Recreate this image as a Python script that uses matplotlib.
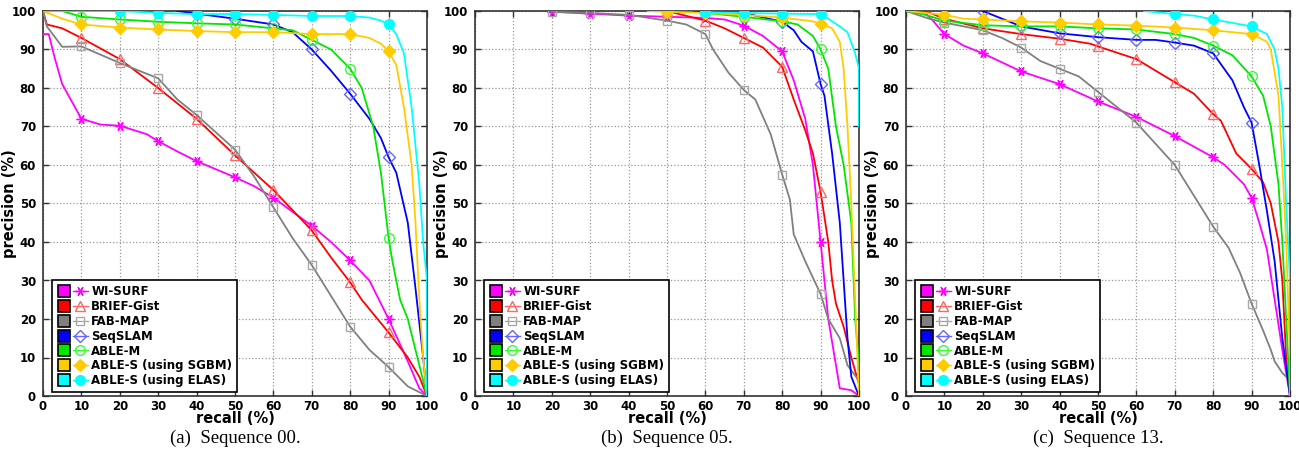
import matplotlib.pyplot as plt
from matplotlib.lines import Line2D
from matplotlib.legend_handler import HandlerTuple
import numpy as np


# ---- data (recall %, precision %) ----
names = ['WI-SURF', 'BRIEF-Gist', 'FAB-MAP', 'SeqSLAM', 'ABLE-M',
         'ABLE-S (using SGBM)', 'ABLE-S (using ELAS)']

# Sequence 00
wisurf_00_x = [0, 1.5, 3, 5, 10, 15, 20, 27, 30, 35, 40, 50, 55, 60, 70, 75, 80, 85, 90, 95, 98, 100]
wisurf_00_y = [94, 94, 88, 81, 72, 70.5, 70.2, 68, 66.2, 63.5, 61, 56.8, 54.5, 51.5, 44.2, 40, 35.2, 30, 20, 9, 2, 0]
brief_00_x = [0, 1, 5, 10, 20, 30, 40, 50, 60, 70, 75, 80, 83, 90, 95, 98, 100]
brief_00_y = [100, 96.5, 95.5, 93, 87.5, 80, 72, 62.5, 53.5, 43, 36, 29.5, 25, 16.5, 10, 5, 0]
fab_00_x = [0, 1, 5, 10, 20, 30, 35, 40, 45, 50, 55, 60, 65, 70, 75, 80, 85, 90, 95, 100]
fab_00_y = [100, 96, 90.7, 90.8, 86.5, 82.5, 77, 73, 68.5, 64, 57, 49, 41, 34, 26, 18, 12, 7.5, 2.5, 0]
seq_00_x = [35, 40, 50, 60, 65, 70, 75, 80, 85, 88, 90, 92, 95, 97, 99, 100]
seq_00_y = [100, 99.3, 98, 96.5, 94.5, 90, 84.5, 78.5, 72, 67, 62, 58, 45, 28, 10, 0]
ablem_00_x = [0, 5, 10, 20, 30, 40, 50, 60, 65, 70, 75, 80, 83, 86, 88, 90, 91, 93, 95, 100]
ablem_00_y = [100, 100, 98.5, 97.8, 97.2, 96.8, 96.5, 95.5, 95, 92.5, 90, 85, 80, 70, 58, 41, 35, 25, 20, 0]
sgbm_00_x = [0, 5, 10, 20, 30, 40, 50, 60, 70, 80, 85, 88, 90, 92, 94, 96, 97, 98, 99, 100]
sgbm_00_y = [100, 98, 96.5, 95.7, 95.2, 94.8, 94.5, 94.5, 94, 94, 93, 91.5, 89.5, 86, 75, 60, 45, 25, 10, 0]
elas_00_x = [0, 20, 30, 40, 50, 60, 70, 80, 85, 88, 90, 92, 94, 96, 98, 99, 100, 100]
elas_00_y = [100, 100, 99.5, 99.2, 99.2, 99, 98.7, 98.7, 98.3, 97.5, 96.5, 94, 89, 75, 55, 40, 30, 0]

# Sequence 05
wisurf_05_x = [20, 30, 40, 50, 60, 65, 70, 75, 80, 83, 86, 88, 90, 91, 92, 95, 98, 100]
wisurf_05_y = [99.8, 99.3, 98.8, 98.5, 98.2, 97.8, 96.2, 93.5, 89.5, 82, 72, 60, 40, 30, 20, 2, 1.5, 0]
brief_05_x = [50, 60, 65, 70, 75, 80, 83, 86, 88, 90, 92, 93, 94, 96, 98, 100]
brief_05_y = [100, 97.5, 95.5, 93, 90.5, 85.5, 77, 69, 63, 53, 40, 30, 24, 18, 10, 3]
fab_05_x = [20, 30, 40, 50, 55, 60, 62, 66, 70, 73, 77, 80, 82, 83, 86, 90, 92, 95, 97, 100]
fab_05_y = [99.8, 99.5, 99, 97.5, 96.5, 94, 90, 84, 79.5, 77, 68, 57.5, 51, 42, 35, 26.5, 20, 15, 8, 4]
seq_05_x = [57, 70, 80, 83, 85, 88, 90, 91, 93, 95, 97, 98, 100]
seq_05_y = [100, 99.5, 97.2, 95, 92, 89.5, 81, 78, 63, 45, 15, 5, 0]
ablem_05_x = [60, 70, 80, 84, 88, 90, 92, 94, 96, 98, 99, 100]
ablem_05_y = [99.5, 98.5, 97.3, 96.5, 93.5, 90, 85, 70, 60, 45, 20, 8]
sgbm_05_x = [45, 50, 60, 70, 80, 88, 90, 93, 95, 96, 97, 98, 99, 100]
sgbm_05_y = [100, 99.8, 99.5, 99, 98.3, 97.3, 96.7, 95.5, 92, 85, 70, 50, 25, 0]
elas_05_x = [60, 70, 80, 90, 92, 95, 97, 99, 100, 100]
elas_05_y = [99.7, 99.5, 99.3, 99.2, 98, 96, 94.5, 89, 85, 70]

# Sequence 13
wisurf_13_x = [0, 5, 7, 10, 15, 20, 30, 40, 50, 60, 70, 80, 83, 88, 90, 92, 94, 96, 98, 100]
wisurf_13_y = [100, 99.5, 97.5, 94, 91, 89, 84.3, 81, 76.5, 72.5, 67.5, 62, 60, 55, 51.5, 45, 38, 25, 12, 0]
brief_13_x = [0, 5, 10, 20, 30, 40, 48, 50, 60, 70, 75, 80, 82, 86, 90, 93, 95, 97, 98, 99, 100]
brief_13_y = [100, 100, 98, 95.5, 94, 92.8, 91.5, 90.8, 87.5, 81.5, 78.5, 73.2, 71.5, 63, 59, 55.5, 50, 40, 30, 10, 0]
fab_13_x = [0, 6, 10, 20, 25, 30, 35, 40, 45, 50, 55, 60, 65, 70, 75, 80, 84, 87, 90, 93, 95, 96, 98, 100]
fab_13_y = [100, 98, 97, 95, 93, 90.5, 87, 85, 83, 79, 75, 71, 65.5, 60, 52, 44, 38.5, 32, 24, 17, 12, 9, 6, 4]
seq_13_x = [20, 30, 40, 50, 60, 65, 70, 75, 80, 85, 88, 90, 92, 94, 96, 98, 100]
seq_13_y = [100, 96, 94.2, 93.2, 92.5, 92.5, 91.8, 91, 89, 82, 75, 71, 60, 48, 35, 15, 0]
ablem_13_x = [0, 5, 10, 20, 30, 40, 50, 60, 70, 75, 80, 85, 90, 93, 95, 97, 98, 99, 100]
ablem_13_y = [100, 99, 97.5, 96.3, 96, 96, 95.5, 95.2, 94, 93, 91, 88.5, 83, 78, 70, 55, 40, 20, 0]
sgbm_13_x = [0, 10, 15, 20, 30, 40, 50, 60, 70, 80, 90, 94, 95, 97, 98, 99, 100]
sgbm_13_y = [100, 99, 98, 97.8, 97.3, 97, 96.5, 96.2, 95.7, 95, 94, 92, 90, 78, 60, 40, 10]
elas_13_x = [62, 70, 75, 80, 90, 94, 96, 97, 98, 99, 100, 100]
elas_13_y = [100, 99.2, 98.8, 97.8, 96, 94, 90, 85, 75, 50, 30, 0]

captions = ['(a)  Sequence 00.', '(b)  Sequence 05.', '(c)  Sequence 13.']
panels = [
    [(wisurf_00_x, wisurf_00_y), (brief_00_x, brief_00_y), (fab_00_x, fab_00_y), (seq_00_x, seq_00_y),
     (ablem_00_x, ablem_00_y), (sgbm_00_x, sgbm_00_y), (elas_00_x, elas_00_y)],
    [(wisurf_05_x, wisurf_05_y), (brief_05_x, brief_05_y), (fab_05_x, fab_05_y), (seq_05_x, seq_05_y),
     (ablem_05_x, ablem_05_y), (sgbm_05_x, sgbm_05_y), (elas_05_x, elas_05_y)],
    [(wisurf_13_x, wisurf_13_y), (brief_13_x, brief_13_y), (fab_13_x, fab_13_y), (seq_13_x, seq_13_y),
     (ablem_13_x, ablem_13_y), (sgbm_13_x, sgbm_13_y), (elas_13_x, elas_13_y)],
]

# ---- styles ----
line_colors = ['#ff00ff', '#ff0000', '#808080', '#0000ff', '#00e600', '#ffcc00', '#00ffff']
mark_colors = ['#ff00ff', '#ff6666', '#a8a8a8', '#6666ff', '#33ff33', '#ffcc00', '#00ffff']
markers = [(6, 2, 30), '^', 's', 'D', 'o', 'D', 'o']
filled = [False, False, False, False, False, True, True]
msizes = [7, 7, 6, 6, 7, 6, 7]

plt.rcParams['font.family'] = 'DejaVu Sans'

fig = plt.figure(figsize=(12.99, 4.61), dpi=100)
lefts = [43, 475, 906]

for p, series in enumerate(panels):
    ax = fig.add_axes([lefts[p] / 1299, 1 - 396 / 461, 384 / 1299, 385 / 461])
    handles = []
    for i, (xs, ys) in enumerate(series):
        xs = np.array(xs, dtype=float)
        ys = np.array(ys, dtype=float)
        every = [k for k, v in enumerate(xs) if v % 10 == 0 and 0 < v < 100]
        ax.plot(xs, ys, color=line_colors[i], lw=1.3, zorder=3 + i * 0.1)
        ax.plot(xs[every], ys[every], ls='none', marker=markers[i], ms=msizes[i],
                mec=mark_colors[i], mfc=mark_colors[i] if filled[i] else 'none',
                mew=1.0, zorder=3 + i * 0.1)
        box = Line2D([], [], ls='none', marker='s', ms=9, mfc=line_colors[i], mec='black', mew=1.2)
        ln = Line2D([], [], color=mark_colors[i], lw=1.0, marker=markers[i], ms=msizes[i],
                    mec=mark_colors[i], mfc=mark_colors[i] if filled[i] else 'none', mew=1.0)
        handles.append((box, ln))

    ax.set_xlim(0, 100)
    ax.set_ylim(0, 100)
    ax.set_xticks(range(0, 101, 10))
    ax.set_yticks(range(0, 101, 10))
    ax.grid(True, color='#999999', ls=':', lw=0.9)
    ax.tick_params(direction='in', top=True, right=True, length=4, width=1,
                   labelsize=8.5, color='#333333')
    ax.tick_params(axis='x', pad=3)
    ax.tick_params(axis='y', pad=5)
    for lab in ax.get_xticklabels() + ax.get_yticklabels():
        lab.set_fontweight('bold')
    for s in ax.spines.values():
        s.set_color('#333333')
        s.set_linewidth(1.2)
    ax.set_xlabel('recall (%)', fontsize=10.5, fontweight='bold')
    ax.set_ylabel('precision (%)', fontsize=10.5, fontweight='bold')
    ax.xaxis.set_label_coords(0.5, -0.04)
    ax.yaxis.set_label_coords(-0.068, 0.5)

    leg = ax.legend(handles, names, loc='lower left', bbox_to_anchor=(0.018, 0.004),
                    handler_map={tuple: HandlerTuple(ndivide=None, pad=0.15)},
                    handlelength=2.6, handletextpad=0.3, labelspacing=0.16,
                    borderpad=0.4, borderaxespad=0.2, fancybox=False, framealpha=1,
                    prop={'weight': 'bold', 'size': 8.5})
    leg.get_frame().set_edgecolor('black')
    leg.get_frame().set_linewidth(1.2)

    fig.text((lefts[p] + 192) / 1299, 1 - 438 / 461, captions[p], ha='center', va='center',
             fontsize=13.5, family='Liberation Serif')

fig.savefig('out.png', dpi=100)
